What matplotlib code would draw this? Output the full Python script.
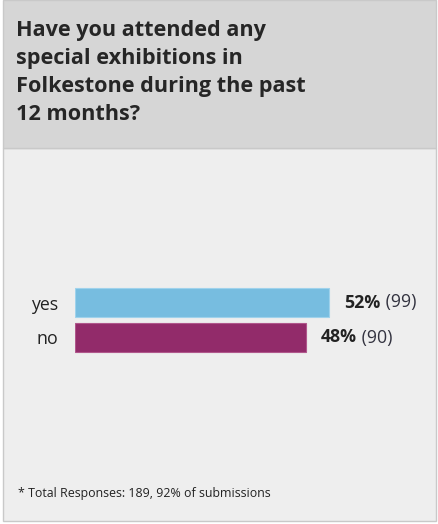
import matplotlib
matplotlib.use("Agg")
import matplotlib.pyplot as plt
from matplotlib.patches import Rectangle

categories = ["yes", "no"]
counts = [99, 90]
percent_labels = ["52%", "48%"]
colors = ["#77bde0", "#922b6a"]
edge_colors = ["#9fd2ec", "#b0578c"]
title = "Have you attended any\nspecial exhibitions in\nFolkestone during the past\n12 months?"
footnote = "* Total Responses: 189, 92% of submissions"

W, H = 439, 524
fig = plt.figure(figsize=(W / 100, H / 100), dpi=100, facecolor="white")

def fx(px):
    return px / W

def fy(py):
    return 1 - py / H

# panels
fig.patches.append(Rectangle((fx(3), fy(521)), fx(433), (521 - 148) / H,
                             transform=fig.transFigure, facecolor="#eeeeee",
                             edgecolor="#c9c9c9", linewidth=1.0, zorder=0))
fig.patches.append(Rectangle((fx(3), fy(148)), fx(433), 148 / H,
                             transform=fig.transFigure, facecolor="#d6d6d6",
                             edgecolor="#c9c9c9", linewidth=1.0, zorder=0))

fig.text(fx(16), fy(20), title, ha="left", va="top", fontsize=15.6,
         fontweight="bold", color="#262626", family="Open Sans",
         linespacing=1.44)

fig.text(fx(18), fy(494), footnote, ha="left", va="center", fontsize=8.9,
         color="#222222", family="Open Sans")

# bar axes
ax_left, ax_right = 75, 436
ax_top, ax_bot = 270, 370
ax = fig.add_axes([fx(ax_left), fy(ax_bot), fx(ax_right - ax_left), (ax_bot - ax_top) / H])
ax.set_zorder(5)
ax.patch.set_alpha(0)
px_per_count = 254 / 99
ax.set_xlim(0, (ax_right - ax_left) / px_per_count)
half = (ax_bot - ax_top) / 35 / 2
ax.set_ylim(0.5 + half, 0.5 - half)
ypos = list(range(len(categories)))
ax.barh(ypos, counts, height=29 / 35, color=colors, edgecolor=edge_colors, linewidth=0.8)
ax.set_yticks(ypos)
ax.set_yticklabels(categories, fontsize=12.8, color="#222222", family="Open Sans")
ax.tick_params(axis="y", length=0, pad=12)
ax.set_xticks([])
for s in ax.spines.values():
    s.set_visible(False)

for i, (c, p) in enumerate(zip(counts, percent_labels)):
    t = ax.annotate(p, xy=(c, i), xytext=(11, 0), textcoords="offset points",
                    va="center", ha="left", fontsize=12.8, fontweight="bold",
                    color="#222222", family="Open Sans")
    ax.annotate(f" ({c})", xy=(1, 0.5), xycoords=t, va="center", ha="left",
                fontsize=12.8, color="#333340", family="Open Sans")

fig.savefig("out.png", dpi=100, facecolor=fig.get_facecolor())
